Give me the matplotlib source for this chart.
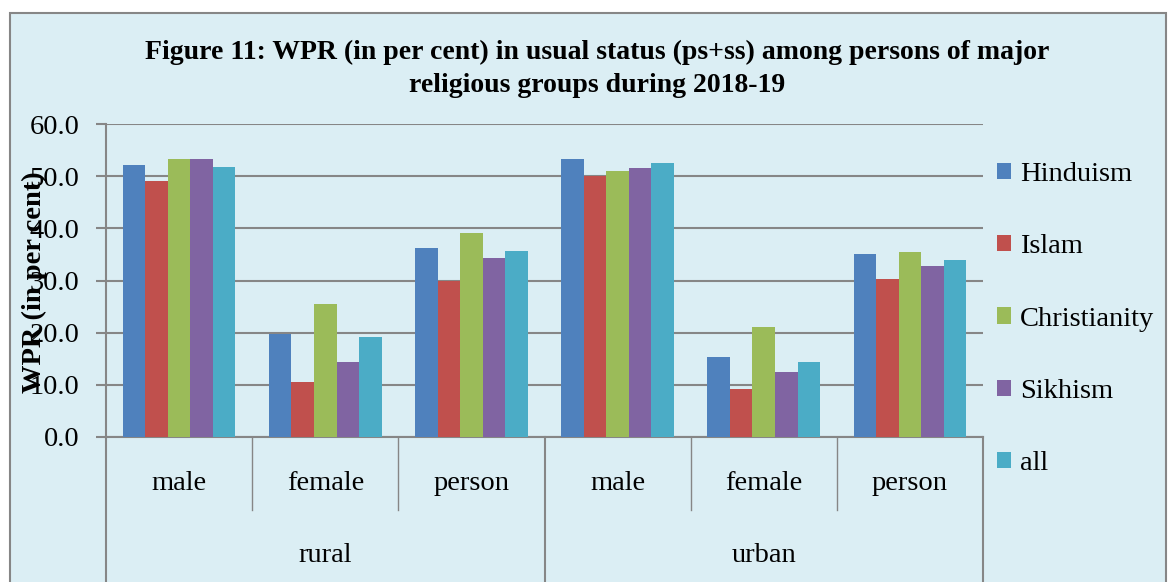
import matplotlib.pyplot as plt
from matplotlib.patches import Rectangle
import numpy as np

plt.rcParams['font.family'] = ['Liberation Serif', 'DejaVu Serif']

areas = ["rural", "urban"]
sexes = ["male", "female", "person"]
religions = ["Hinduism", "Islam", "Christianity", "Sikhism", "all"]
colors = ["#4F81BD", "#C0504D", "#9BBB59", "#8064A2", "#4BACC6"]

# order: rural male, female, person, urban male, female, person
hinduism = [52.1, 19.7, 36.3, 53.2, 15.4, 35.0]
islam = [49.1, 10.5, 29.9, 50.0, 9.2, 30.2]
christianity = [53.2, 25.5, 39.2, 50.9, 21.0, 35.4]
sikhism = [53.2, 14.3, 34.4, 51.6, 12.4, 32.8]
all_rel = [51.8, 19.1, 35.6, 52.5, 14.3, 34.0]
series = [hinduism, islam, christianity, sikhism, all_rel]

bg = "#DBEEF4"
grid_c = "#868686"

W, H = 1169, 582
fig = plt.figure(figsize=(W / 100, H / 100), dpi=100)
fig.patch.set_facecolor("white")
# chart area frame
fig.patches.append(Rectangle((10 / W, -0.05), 1156 / W, 1.05 - 13 / H,
                             transform=fig.transFigure, facecolor=bg,
                             edgecolor=grid_c, linewidth=1.5, zorder=-5))

ax = fig.add_axes([106 / W, (H - 437) / H, (983 - 106) / W, (437 - 124) / H])
ax.set_zorder(2)
ax.set_facecolor(bg)

x = np.arange(len(hinduism))
w = 0.154
for i, (vals, c, lab) in enumerate(zip(series, colors, religions)):
    ax.bar(x + (i - 2) * w, vals, width=w, color=c, label=lab, zorder=3)

ax.set_xlim(-0.5, 5.5)
ax.set_ylim(0, 60)
ax.set_yticks(np.arange(0, 61, 10))
ax.set_yticklabels([f"{v:.1f}" for v in np.arange(0, 61, 10)], fontsize=20.5)
ax.yaxis.grid(True, color=grid_c, linewidth=1.5, zorder=1)
ax.set_axisbelow(True)
ax.tick_params(axis='y', length=7, width=1.5, color=grid_c, pad=12)
ax.set_xticks([])
for s in ["top", "right"]:
    ax.spines[s].set_visible(False)
for s in ["left", "bottom"]:
    ax.spines[s].set_color(grid_c)
    ax.spines[s].set_linewidth(1.5)

# two-level category axis
trans = ax.get_xaxis_transform()
for b in [0.5, 1.5, 3.5, 4.5]:
    ax.plot([b, b], [0, -0.233], transform=trans, color=grid_c, lw=1, clip_on=False)
for b in [-0.5, 2.5, 5.5]:
    ax.plot([b, b], [0, -0.6], transform=trans, color=grid_c, lw=1.5, clip_on=False)
for k in range(6):
    ax.text(k, -0.147, sexes[k % 3], transform=trans, ha="center", va="center", fontsize=20.5)
for g, name in enumerate(areas):
    ax.text(g * 3 + 1, -0.377, name, transform=trans, ha="center", va="center", fontsize=20.5)

ax.set_ylabel("WPR (in per cent)", fontsize=20.5, fontweight="bold")
ax.yaxis.set_label_coords(-0.067, 0.495)

fig.text(597 / W, 1 - 52 / H,
         "Figure 11: WPR (in per cent) in usual status (ps+ss) among persons of major",
         ha="center", va="center", fontsize=20, fontweight="bold")
fig.text(597 / W, 1 - 85 / H, "religious groups during 2018-19",
         ha="center", va="center", fontsize=20, fontweight="bold")

fig.legend(loc="center left", bbox_to_anchor=(983 / W, 1 - 319 / H), frameon=False,
           fontsize=20.5, handlelength=0.5, handleheight=0.5, handletextpad=0.3,
           labelspacing=1.66, borderpad=0)

fig.savefig("out.png", dpi=100)
